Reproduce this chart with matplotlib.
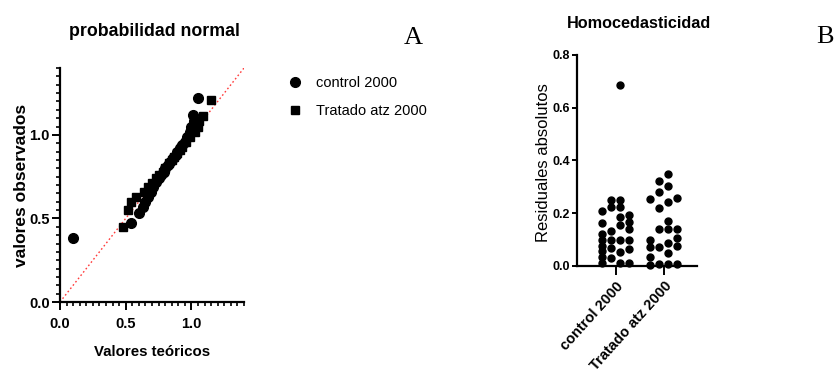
import matplotlib
matplotlib.use("Agg")
import matplotlib.pyplot as plt
from matplotlib.ticker import MultipleLocator
import numpy as np

plt.rcParams['font.family'] = ['Liberation Sans', 'DejaVu Sans']

# ---------------- data ----------------
series_names = ["control 2000", "Tratado atz 2000"]

# Panel A: normal probability (QQ) plot
control_teorico = [0.10, 0.54, 0.60, 0.63, 0.65, 0.67, 0.69, 0.71, 0.73, 0.75,
                   0.77, 0.79, 0.80, 0.82, 0.84, 0.86, 0.88, 0.89, 0.91, 0.93,
                   0.95, 0.97, 0.99, 1.00, 1.02, 1.01, 1.05]
control_observado = [0.38, 0.47, 0.53, 0.57, 0.60, 0.63, 0.66, 0.69, 0.72, 0.74,
                     0.76, 0.78, 0.80, 0.82, 0.84, 0.86, 0.88, 0.90, 0.92, 0.94,
                     0.96, 0.99, 1.02, 1.05, 1.08, 1.12, 1.22]
tratado_teorico = [0.48, 0.52, 0.54, 0.58, 0.64, 0.67, 0.70, 0.73, 0.75, 0.78,
                   0.80, 0.83, 0.85, 0.87, 0.89, 0.91, 0.93, 0.96, 0.99, 1.03,
                   1.05, 1.06, 1.09, 1.15]
tratado_observado = [0.45, 0.55, 0.60, 0.63, 0.66, 0.69, 0.71, 0.74, 0.76, 0.78,
                     0.80, 0.83, 0.85, 0.87, 0.89, 0.91, 0.93, 0.96, 0.99, 1.02,
                     1.05, 1.08, 1.11, 1.21]

# Panel B: absolute residuals, grouped as drawn in swarm columns
categories = ["control 2000", "Tratado atz 2000"]
control_residuales = [
    [0.207, 0.164, 0.120, 0.099, 0.077, 0.055, 0.033, 0.012],
    [0.252, 0.222, 0.132, 0.100, 0.070, 0.032],
    [0.688, 0.252, 0.222, 0.187, 0.155, 0.100, 0.053, 0.010],
    [0.195, 0.165, 0.140, 0.100, 0.064, 0.012],
]
tratado_residuales = [
    [0.254, 0.099, 0.071, 0.033, 0.003],
    [0.324, 0.279, 0.221, 0.139, 0.073, 0.006],
    [0.348, 0.303, 0.244, 0.171, 0.140, 0.088, 0.050, 0.006],
    [0.257, 0.139, 0.105, 0.074, 0.006],
]

W, H = 836, 374
fig = plt.figure(figsize=(W / 100, H / 100), dpi=100)


def fx(px):
    return px / W


def fy(py):
    return 1 - py / H


# ---------------- Panel A ----------------
axA = fig.add_axes([fx(60), fy(302), fx(184), 234 / H])
lim = 1.4
axA.plot([0, lim], [0, lim], linestyle=(0, (1.2, 1.8)), color='#ff3b3b', lw=1.0, zorder=1)
axA.plot(control_teorico, control_observado, 'o', color='black', ms=7.0,
         label=series_names[0], zorder=3, clip_on=False)
axA.plot(tratado_teorico, tratado_observado, 's', color='black', ms=6.4,
         label=series_names[1], zorder=3, clip_on=False)
axA.set_xlim(0, lim)
axA.set_ylim(0, lim)
axA.xaxis.set_major_locator(MultipleLocator(0.5))
axA.yaxis.set_major_locator(MultipleLocator(0.5))
axA.xaxis.set_minor_locator(MultipleLocator(0.05))
axA.yaxis.set_minor_locator(MultipleLocator(0.05))
axA.xaxis.set_major_formatter(plt.FuncFormatter(lambda v, p: f"{v:.1f}"))
axA.yaxis.set_major_formatter(plt.FuncFormatter(lambda v, p: f"{v:.1f}"))
for s in ['top', 'right']:
    axA.spines[s].set_visible(False)
for s in ['left', 'bottom']:
    axA.spines[s].set_linewidth(1.6)
axA.tick_params(which='major', length=5.5, width=1.4, labelsize=10.5, pad=2)
axA.tick_params(axis='x', which='major', pad=5)
axA.tick_params(which='minor', length=3, width=1.2)
for lab in axA.get_xticklabels() + axA.get_yticklabels():
    lab.set_fontweight('bold')
axA.set_xlabel("Valores teóricos", fontsize=10.8, fontweight='bold')
axA.xaxis.set_label_coords(0.5, -0.185)
axA.set_ylabel("valores observados", fontsize=12.5, fontweight='bold')
axA.yaxis.set_label_coords(-0.17, 0.5)

fig.text(fx(154), fy(32), "probabilidad normal", fontsize=12.8, fontweight='bold',
         ha='center', va='center')
fig.text(fx(413), fy(38), "A", fontsize=19, family=['Liberation Serif', 'DejaVu Serif'],
         ha='center', va='center')

fig.legend(handles=axA.get_lines()[1:], labels=series_names, loc='upper left',
           bbox_to_anchor=(fx(288), fy(76)), frameon=False, fontsize=10.5,
           handlelength=1.0, handletextpad=0.9, labelspacing=0.95, borderpad=0,
           borderaxespad=0)

# ---------------- Panel B ----------------
axB = fig.add_axes([fx(577), fy(266), fx(120), 211 / H])
spacing = 0.187
for ci, cols in enumerate([control_residuales, tratado_residuales]):
    n = len(cols)
    for j, vals in enumerate(cols):
        off = (j - (n - 1) / 2) * spacing
        axB.plot([ci + off] * len(vals), vals, 'o', color='black', ms=5.0,
                 clip_on=False, zorder=3)
axB.set_xlim(-0.81, 1.69)
axB.set_ylim(0, 0.8)
axB.set_xticks(range(len(categories)))
axB.set_xticklabels(categories, rotation=48, ha='right', rotation_mode='anchor',
                    fontsize=10.5, fontweight='bold')
axB.yaxis.set_major_locator(MultipleLocator(0.2))
axB.yaxis.set_major_formatter(plt.FuncFormatter(lambda v, p: f"{v:.1f}"))
for lab in axB.get_yticklabels():
    lab.set_fontweight('bold')
for s in ['top', 'right']:
    axB.spines[s].set_visible(False)
for s in ['left', 'bottom']:
    axB.spines[s].set_linewidth(1.6)
axB.tick_params(axis='y', length=3.5, width=1.4, labelsize=9, pad=1.5)
axB.tick_params(axis='x', length=6.5, width=1.4, pad=3)
axB.set_ylabel("Residuales absolutos", fontsize=12)
axB.yaxis.set_label_coords(-0.215, 0.49)

fig.text(fx(639), fy(23), "Homocedasticidad", fontsize=11.7, fontweight='bold',
         ha='center', va='center')
fig.text(fx(825), fy(37), "B", fontsize=19, family=['Liberation Serif', 'DejaVu Serif'],
         ha='center', va='center')

fig.savefig("out.png", dpi=100)
